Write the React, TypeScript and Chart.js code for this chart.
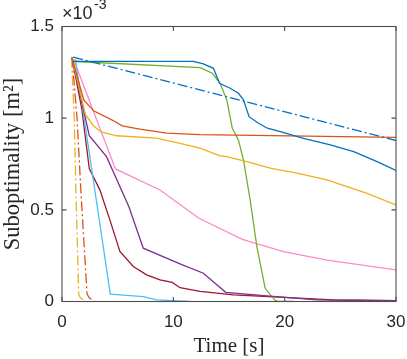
import React, { useEffect, useRef } from "react";
import { Chart, registerables } from "chart.js";

Chart.register(...registerables);

// ---- data (values in units of 1e-3 m^2) ----
const blueDashX = [1.0, 30];
const blueDashY = [1.333, 0.878];

const blueX = [1.0, 11.8, 12.7, 13.6, 14.15, 15.1, 15.85, 16.3, 16.8, 17.65, 18.45, 19.6, 21.7, 24.1, 26.2, 28.3, 30];
const blueY = [1.31, 1.31, 1.296, 1.272, 1.19, 1.163, 1.136, 1.1, 1.008, 0.972, 0.945, 0.926, 0.89, 0.854, 0.817, 0.763, 0.715];

const orangeX = [0.9, 1.95, 2.84, 4.6, 5.4, 7.0, 9.4, 12.4, 30];
const orangeY = [1.33, 1.1, 1.04, 0.987, 0.958, 0.94, 0.918, 0.91, 0.895];

const yellowX = [0.9, 2.1, 2.8, 3.5, 4.9, 8.5, 10.6, 12.4, 14.2, 14.8, 16.6, 18.7, 21.1, 23.8, 25.6, 27.4, 30];
const yellowY = [1.33, 1.02, 0.96, 0.925, 0.904, 0.891, 0.863, 0.836, 0.794, 0.79, 0.763, 0.727, 0.7, 0.663, 0.626, 0.59, 0.527];

const purpleX = [0.9, 2.45, 4.0, 6.0, 7.3, 10.6, 12.7, 14.7, 18.4, 22.9, 30];
const purpleY = [1.33, 0.905, 0.79, 0.518, 0.291, 0.205, 0.154, 0.05, 0.031, 0.009, 0.004];

const greenX = [1.2, 12.4, 13.5, 14.2, 14.8, 15.3, 15.85, 16.3, 16.9, 17.5, 18.25, 19.1, 19.5, 20.8];
const greenY = [1.309, 1.276, 1.245, 1.19, 1.1, 0.945, 0.88, 0.772, 0.554, 0.3, 0.072, 0.008, 0, 0];

const cyanX = [1.2, 4.34, 7.3, 8.5, 11.5];
const cyanY = [1.32, 0.04, 0.027, 0.009, 0.0];

const darkRedX = [0.9, 1.79, 2.45, 3.4, 4.3, 5.2, 6.4, 7.6, 8.8, 9.9, 10.6, 12.4, 15.4, 19.9, 24.4, 30];
const darkRedY = [1.33, 1.045, 0.725, 0.609, 0.445, 0.273, 0.191, 0.145, 0.118, 0.104, 0.075, 0.055, 0.036, 0.022, 0.009, 0.004];

const pinkX = [1.05, 4.8, 8.8, 12.3, 16.2, 19.9, 23.8, 30];
const pinkY = [1.32, 0.723, 0.608, 0.454, 0.339, 0.272, 0.226, 0.172];

const yellowDashX = [0.85, 1.1, 1.25, 1.5, 1.65, 2.1];
const yellowDashY = [1.33, 1.0, 0.6, 0.04, 0.02, 0];

const orangeDashX = [0.9, 1.35, 1.7, 2.25, 2.45, 2.95];
const orangeDashY = [1.33, 1.0, 0.6, 0.04, 0.02, 0];

const xTicks = [0, 10, 20, 30];
const yTicks = [0, 0.5, 1, 1.5];

const TEXT = "#262626";
const AXIS = "#4d4d4d";
const DASHDOT = [10, 3, 2, 3];
const SANS = '"Liberation Sans", Arial, sans-serif';
const SERIF = '"Liberation Serif", "Times New Roman", serif';

function pts(xs: number[], ys: number[]) {
  return xs.map((x, i) => ({ x, y: ys[i] }));
}

function ds(xs: number[], ys: number[], color: string, dashed = false) {
  return {
    data: pts(xs, ys),
    borderColor: color,
    backgroundColor: color,
    borderWidth: 1.3,
    borderDash: dashed ? DASHDOT : [],
    pointRadius: 0,
    tension: 0,
    fill: false,
  };
}

const framePlugin = {
  id: "frame",
  afterDraw(chart: any) {
    const { ctx, chartArea: a, scales } = chart;
    ctx.save();
    ctx.strokeStyle = AXIS;
    ctx.lineWidth = 1.1;
    ctx.strokeRect(a.left, a.top, a.right - a.left, a.bottom - a.top);
    const tl = 4.5;
    ctx.beginPath();
    xTicks.forEach((v) => {
      const px = scales.x.getPixelForValue(v);
      ctx.moveTo(px, a.bottom);
      ctx.lineTo(px, a.bottom - tl);
      ctx.moveTo(px, a.top);
      ctx.lineTo(px, a.top + tl);
    });
    yTicks.forEach((v) => {
      const py = scales.y.getPixelForValue(v);
      ctx.moveTo(a.left, py);
      ctx.lineTo(a.left + tl, py);
      ctx.moveTo(a.right, py);
      ctx.lineTo(a.right - tl, py);
    });
    ctx.stroke();
    ctx.fillStyle = TEXT;
    ctx.textAlign = "left";
    ctx.textBaseline = "alphabetic";
    ctx.font = "18px " + SANS;
    ctx.fillText("×10", a.left, a.top - 7.2);
    const w = ctx.measureText("×10").width;
    ctx.font = "14px " + SANS;
    ctx.fillText("-3", a.left + w + 1.5, a.top - 17.2);
    ctx.restore();
  },
};

export default function App() {
  const ref = useRef<HTMLCanvasElement | null>(null);
  useEffect(() => {
    if (!ref.current) return;
    const chart = new Chart(ref.current, {
      type: "line",
      data: {
        datasets: [
          ds(blueDashX, blueDashY, "#0072BD", true),
          ds(blueX, blueY, "#0072BD"),
          ds(orangeX, orangeY, "#D95319"),
          ds(yellowX, yellowY, "#EDB120"),
          ds(purpleX, purpleY, "#7E2F8E"),
          ds(greenX, greenY, "#77AC30"),
          ds(cyanX, cyanY, "#4DBEEE"),
          ds(darkRedX, darkRedY, "#A2142F"),
          ds(pinkX, pinkY, "#FF88C8"),
          ds(yellowDashX, yellowDashY, "#EDB120", true),
          ds(orangeDashX, orangeDashY, "#D95319", true),
        ] as any,
      },
      options: {
        animation: false,
        responsive: false,
        devicePixelRatio: 1,
        layout: { padding: { left: 0, top: 26.5, right: 11, bottom: 0 } },
        plugins: { legend: { display: false }, tooltip: { enabled: false } },
        elements: { line: { borderCapStyle: "butt" } },
        scales: {
          x: {
            type: "linear",
            min: 0,
            max: 30,
            afterBuildTicks: (s: any) => {
              s.ticks = xTicks.map((v) => ({ value: v }));
            },
            afterFit: (s: any) => {
              s.height = 57.5;
              s.paddingLeft = 0;
              s.paddingRight = 0;
            },
            grid: { display: false, drawTicks: false },
            border: { display: false },
            ticks: {
              color: TEXT,
              padding: 11,
              maxRotation: 0,
              callback: (v: any) => String(v),
              font: { family: SANS, size: 17 },
            },
            title: {
              display: true,
              text: "Time [s]",
              color: TEXT,
              padding: { top: 0, bottom: 0 },
              font: { family: SERIF, size: 21 },
            },
          },
          y: {
            type: "linear",
            min: 0,
            max: 1.5,
            afterBuildTicks: (s: any) => {
              s.ticks = yTicks.map((v) => ({ value: v }));
            },
            afterFit: (s: any) => {
              s.width = 62;
              s.paddingTop = 0;
              s.paddingBottom = 0;
            },
            grid: { display: false, drawTicks: false },
            border: { display: false },
            ticks: {
              color: TEXT,
              padding: 8,
              callback: (v: any) => String(v),
              font: { family: SANS, size: 17 },
            },
            title: {
              display: true,
              text: "Suboptimality [m²]",
              color: TEXT,
              padding: { top: 0, bottom: 0 },
              font: { family: SERIF, size: 22.5 },
            },
          },
        },
      } as any,
      plugins: [framePlugin],
    });
    return () => chart.destroy();
  }, []);
  return (
    <div style={{ position: "absolute", left: 0, top: 0, width: 407, height: 359, background: "#fff" }}>
      <canvas ref={ref} width={407} height={359} style={{ display: "block" }} />
    </div>
  );
}
